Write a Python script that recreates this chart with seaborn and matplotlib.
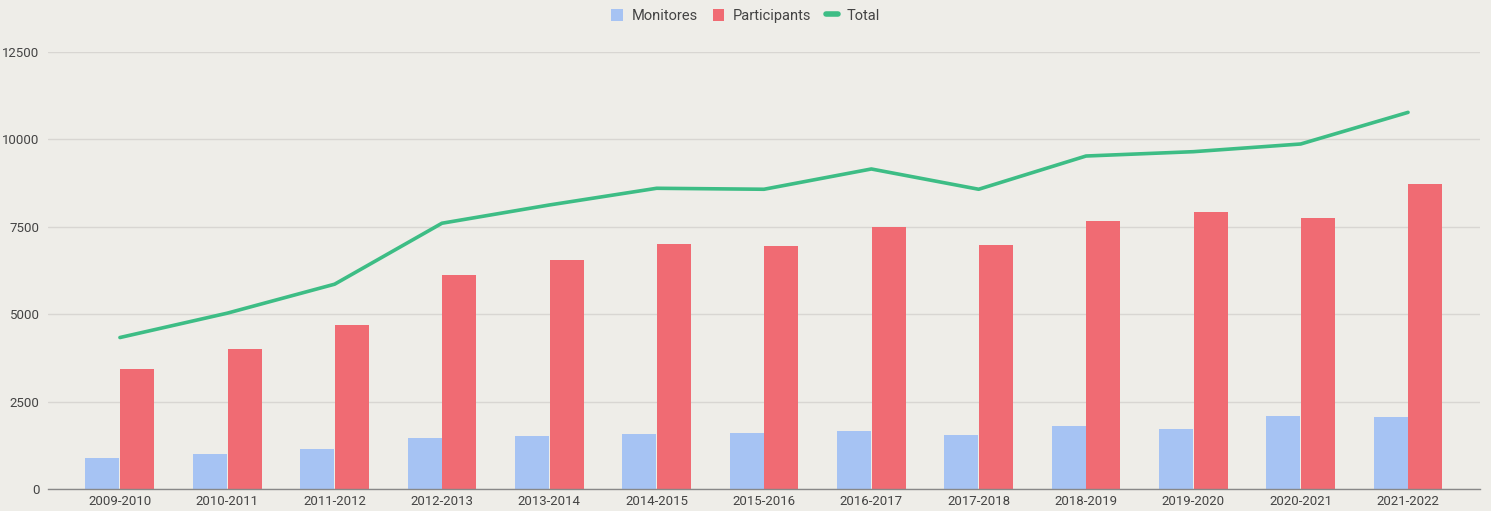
import numpy as np
import pandas as pd
import matplotlib
matplotlib.use("Agg")
import matplotlib.pyplot as plt
import seaborn as sns
from matplotlib.patches import Patch
from matplotlib.lines import Line2D

# Data
seasons = ["2009-2010", "2010-2011", "2011-2012", "2012-2013", "2013-2014",
           "2014-2015", "2015-2016", "2016-2017", "2017-2018", "2018-2019",
           "2019-2020", "2020-2021", "2021-2022"]
monitores = [886, 1000, 1143, 1460, 1503, 1581, 1609, 1666, 1552, 1809, 1715, 2095, 2047]
participants = [3430, 4001, 4696, 6125, 6563, 7020, 6963, 7489, 6992, 7678, 7917, 7763, 8718]
total = [4333, 5030, 5859, 7603, 8125, 8603, 8575, 9155, 8575, 9526, 9650, 9870, 10775]

series_names = ["Monitores", "Participants"]
colors = {"Monitores": "#a6c3f3", "Participants": "#f06b73"}
line_color = "#3dbd85"
bg = "#eeede8"
text_color = "#444444"

sns.set_style("white")
plt.rcParams['font.family'] = ['Roboto', 'DejaVu Sans']

df = pd.DataFrame({"season": seasons, "Monitores": monitores, "Participants": participants})
long_df = df.melt(id_vars="season", value_vars=series_names, var_name="serie", value_name="value")

fig = plt.figure(figsize=(14.91, 5.11), dpi=100, facecolor=bg)
ax = fig.add_axes([0.0322, 0.0431, 0.9604, 0.855])
ax.set_facecolor(bg)

sns.barplot(data=long_df, x="season", y="value", hue="serie", hue_order=series_names,
            palette=colors, width=0.65, gap=0.025, saturation=1, ax=ax, legend=False,
            edgecolor="none")

# Total line through the category centres
sns.lineplot(x=np.arange(len(seasons)), y=total, color=line_color, linewidth=2.6,
             ax=ax, legend=False)

ax.set_xlim(-0.67, len(seasons) - 1 + 0.67)
ax.set_ylim(0, 12500)
ax.set_yticks([0, 2500, 5000, 7500, 10000, 12500])
ax.set_xlabel("")
ax.set_ylabel("")

# Grid and spines
ax.yaxis.grid(True, color="#d8d6d2", linewidth=1)
ax.set_axisbelow(True)
for side in ["top", "right", "left"]:
    ax.spines[side].set_visible(False)
ax.spines["bottom"].set_color("#888888")
ax.spines["bottom"].set_linewidth(1)
ax.tick_params(axis="both", length=0, labelsize=9.5, labelcolor=text_color)
ax.tick_params(axis="y", pad=6)
ax.tick_params(axis="x", pad=4)

handles = [Patch(facecolor=colors["Monitores"], edgecolor="none"),
           Patch(facecolor=colors["Participants"], edgecolor="none"),
           Line2D([0], [0], color=line_color, linewidth=4)]
fig.legend(handles, ["Monitores", "Participants", "Total"], loc="upper center",
           bbox_to_anchor=(0.5, 1.0), ncol=3, frameon=False, fontsize=10.5,
           labelcolor=text_color, handlelength=0.8, handleheight=0.9,
           handletextpad=0.6, columnspacing=1.0, borderaxespad=0.2)

fig.savefig("out.png", dpi=100, facecolor=bg)
